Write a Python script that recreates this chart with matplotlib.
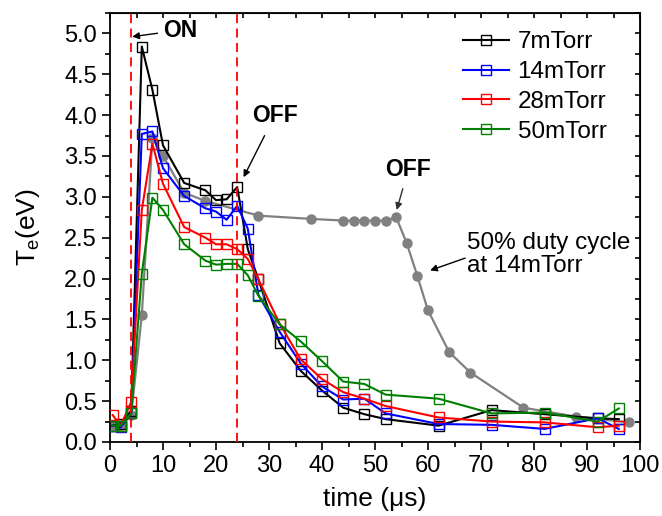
import matplotlib
matplotlib.use("Agg")
import matplotlib.pyplot as plt
from matplotlib.ticker import MultipleLocator

plt.rcParams['font.family'] = ['Liberation Sans', 'DejaVu Sans']
plt.rcParams['mathtext.fontset'] = 'custom'
plt.rcParams['mathtext.rm'] = 'Liberation Sans'
plt.rcParams['mathtext.it'] = 'Liberation Sans'

# time (us)
t_7 = [0.5, 2, 4, 6, 8, 10, 14, 18, 20, 22, 24, 26, 28, 32, 36, 40, 44, 48, 52, 62, 72, 82, 92, 96]
T_7 = [0.20, 0.22, 0.38, 4.84, 4.31, 3.63, 3.17, 3.08, 2.96, 2.97, 3.12, 2.36, 1.99, 1.21, 0.87, 0.63, 0.42, 0.34, 0.28, 0.20, 0.39, 0.34, 0.29, 0.28]

t_14 = [0.5, 2, 4, 6, 8, 10, 14, 18, 20, 22, 24, 26, 28, 32, 36, 40, 44, 48, 52, 62, 72, 82, 92, 96]
T_14 = [0.20, 0.18, 0.35, 3.77, 3.80, 3.35, 3.01, 2.86, 2.82, 2.72, 2.89, 2.61, 1.80, 1.35, 0.96, 0.68, 0.52, 0.53, 0.35, 0.22, 0.21, 0.16, 0.29, 0.16]

t_28 = [0.5, 2, 4, 6, 8, 10, 14, 18, 20, 22, 24, 26, 28, 32, 36, 40, 44, 48, 52, 62, 72, 82, 92, 96]
T_28 = [0.33, 0.20, 0.49, 2.84, 3.65, 3.16, 2.63, 2.50, 2.42, 2.42, 2.36, 2.24, 1.99, 1.45, 1.01, 0.77, 0.61, 0.53, 0.44, 0.30, 0.25, 0.24, 0.18, 0.20]

t_50 = [0.5, 2, 4, 6, 8, 10, 14, 18, 20, 22, 24, 26, 28, 32, 36, 40, 44, 48, 52, 62, 72, 82, 92, 96]
T_50 = [0.20, 0.20, 0.35, 2.06, 2.99, 2.84, 2.42, 2.22, 2.17, 2.18, 2.18, 2.04, 1.79, 1.44, 1.23, 0.99, 0.74, 0.71, 0.58, 0.53, 0.35, 0.36, 0.25, 0.41]

t_duty = [0.5, 2, 4, 6, 8, 10, 14, 18, 28, 38, 44, 46, 48, 50, 52, 54, 56, 58, 60, 64, 68, 78, 88, 98]
T_duty = [0.21, 0.21, 0.33, 1.55, 3.72, 3.50, 3.05, 2.95, 2.77, 2.73, 2.71, 2.71, 2.71, 2.71, 2.71, 2.75, 2.43, 2.03, 1.61, 1.10, 0.85, 0.42, 0.31, 0.24]

labels = ['7mTorr', '14mTorr', '28mTorr', '50mTorr']
colors = ['black', '#0000ff', '#ff0000', '#008000']

fig = plt.figure(figsize=(6.62, 5.16), dpi=100)
ax = fig.add_axes([110/662, 1-442/516, 530/662, 429/516])

ax.plot(t_duty, T_duty, '-o', color='#808080', lw=1.6, ms=6.5, zorder=2)

series = [(t_7, T_7), (t_14, T_14), (t_28, T_28), (t_50, T_50)]
for (tt, TT), lab, c in zip(series, labels, colors):
    ax.plot(tt, TT, '-s', color=c, lw=1.5, ms=6.5, mfc='none', mew=1.0, label=lab, zorder=3)

for xv in [4, 24]:
    ax.axvline(xv, color='#ff0000', ls=(0, (5, 3)), lw=1.3, zorder=4)

ax.set_xlim(0, 100)
ax.set_ylim(0, 5.25)
ax.xaxis.set_major_locator(MultipleLocator(10))
ax.xaxis.set_minor_locator(MultipleLocator(5))
ax.yaxis.set_major_locator(MultipleLocator(0.5))
ax.yaxis.set_minor_locator(MultipleLocator(0.25))
ax.yaxis.set_major_formatter(matplotlib.ticker.FormatStrFormatter('%.1f'))
ax.tick_params(which='both', direction='out', labelsize=17, width=1.2)
ax.tick_params(which='major', length=6)
ax.tick_params(which='minor', length=3.5)
for s in ax.spines.values():
    s.set_linewidth(1.3)

# mirrored inward ticks on top and right
axr = ax.secondary_yaxis('right')
axr.yaxis.set_major_locator(MultipleLocator(0.5))
axr.yaxis.set_minor_locator(MultipleLocator(0.25))
axr.tick_params(which='both', direction='in', length=3.5, width=1.2, labelright=False)
axt = ax.secondary_xaxis('top')
axt.xaxis.set_major_locator(MultipleLocator(10))
axt.xaxis.set_minor_locator(MultipleLocator(5))
axt.tick_params(which='both', direction='in', length=3.5, width=1.2, labeltop=False)

ax.set_xlabel('time (\u03bcs)', fontsize=19, labelpad=7)
ax.set_ylabel('T$_\\mathregular{e}$(eV)', fontsize=19, labelpad=16)

ax.annotate('ON', xy=(4.2, 4.96), xytext=(10, 5.04), fontsize=16.5, fontweight='bold',
            va='center', ha='left',
            arrowprops=dict(arrowstyle='-|>', color='black', lw=1.0, mutation_scale=10, shrinkA=2, shrinkB=0))
ax.annotate('OFF', xy=(25.2, 3.24), xytext=(26.8, 4.0), fontsize=16.5, fontweight='bold',
            va='center', ha='left',
            arrowprops=dict(arrowstyle='-|>', color='black', lw=1.0, mutation_scale=10, shrinkA=5, shrinkB=0))
ax.annotate('OFF', xy=(54.1, 2.84), xytext=(56.3, 3.34), fontsize=16.5, fontweight='bold',
            va='center', ha='center',
            arrowprops=dict(arrowstyle='-|>', color='#303030', lw=1.0, mutation_scale=10, shrinkA=4, shrinkB=0))
ax.annotate('', xy=(60.4, 2.10), xytext=(67.0, 2.25),
            arrowprops=dict(arrowstyle='-|>', color='black', lw=1.0, mutation_scale=10, shrinkA=0, shrinkB=0))
ax.text(67.3, 2.29, '50% duty cycle\nat 14mTorr', fontsize=17.5, va='center', ha='left', linespacing=1.05)

leg = ax.legend(loc='upper right', bbox_to_anchor=(0.955, 0.98), fontsize=17.5, frameon=False,
                handlelength=1.9, handletextpad=0.35, labelspacing=0.32, borderaxespad=0.0)

fig.savefig('out.png', dpi=100)
